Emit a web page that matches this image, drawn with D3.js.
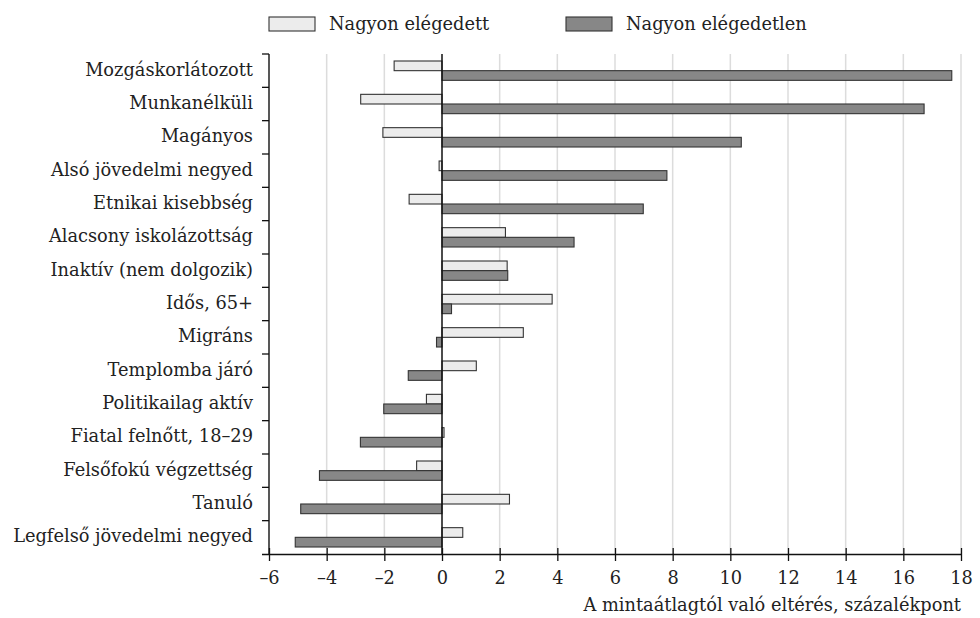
<!DOCTYPE html>
<html>
<head>
<meta charset="utf-8">
<script src="https://cdn.jsdelivr.net/npm/d3@7"></script>
<style>
  body { margin: 0; background: #fff; }
  svg text { font-family: "DejaVu Serif", serif; fill: #222; }
</style>
</head>
<body>
<svg id="chart" width="980" height="618"></svg>
<script>
const categories = [
  "Mozgáskorlátozott", "Munkanélküli", "Magányos", "Alsó jövedelmi negyed",
  "Etnikai kisebbség", "Alacsony iskolázottság", "Inaktív (nem dolgozik)",
  "Idős, 65+", "Migráns", "Templomba járó", "Politikailag aktív",
  "Fiatal felnőtt, 18–29", "Felsőfokú végzettség", "Tanuló",
  "Legfelső jövedelmi negyed"
];
const nagyonElegedett = [-1.66, -2.82, -2.05, -0.1, -1.14, 2.2, 2.26, 3.82, 2.82, 1.19, -0.54, 0.07, -0.88, 2.34, 0.72];
const nagyonElegedetlen = [17.68, 16.72, 10.38, 7.8, 6.98, 4.58, 2.28, 0.33, -0.19, -1.17, -2.02, -2.83, -4.25, -4.9, -5.09];
const xTicks = [-6, -4, -2, 0, 2, 4, 6, 8, 10, 12, 14, 16, 18];
const seriesNames = ["Nagyon elégedett", "Nagyon elégedetlen"];

const svg = d3.select("#chart");
const margin = { top: 54, right: 19, bottom: 64, left: 269 };
const width = 980 - margin.left - margin.right;
const height = 618 - margin.top - margin.bottom;
const fontSize = 17.8;

const x = d3.scaleLinear().domain([-6, 18]).range([0, width]);
const y = d3.scaleBand().domain(categories).range([0, height]).paddingInner(0.42).paddingOuter(0.21);
const sub = d3.scaleBand().domain([0, 1]).range([0, y.bandwidth()]);

const g = svg.append("g").attr("transform", `translate(${margin.left},${margin.top})`);

// gridlines
g.selectAll(".grid").data(xTicks.filter(d => d !== -6 && d !== 0)).enter().append("line")
  .attr("x1", d => x(d)).attr("x2", d => x(d))
  .attr("y1", 0).attr("y2", height)
  .attr("stroke", "#dcdcdc").attr("stroke-width", 1.5);

const fills = ["#ececec", "#878787"];
const series = [nagyonElegedett, nagyonElegedetlen];

series.forEach((vals, s) => {
  g.selectAll(".bar" + s).data(vals).enter().append("rect")
    .attr("x", d => x(Math.min(0, d)))
    .attr("width", d => Math.abs(x(d) - x(0)))
    .attr("y", (d, i) => y(categories[i]) + sub(s))
    .attr("height", sub.bandwidth())
    .attr("fill", fills[s])
    .attr("stroke", "#333").attr("stroke-width", 1.1);
});

// zero line
g.append("line").attr("x1", x(0)).attr("x2", x(0)).attr("y1", 0).attr("y2", height)
  .attr("stroke", "#111").attr("stroke-width", 1.5);

// x axis
const xAxis = g.append("g").attr("transform", `translate(0,${height})`)
  .call(d3.axisBottom(x).tickValues(xTicks).tickSize(7).tickSizeOuter(0)
    .tickFormat(d => d < 0 ? "\u2013" + Math.abs(d) : d));
xAxis.select(".domain").attr("stroke", "#111").attr("stroke-width", 1.4).attr("d", `M-7,0.5H${width}`);
xAxis.selectAll(".tick line").attr("stroke", "#111").attr("stroke-width", 1.3).attr("y1", -6).attr("y2", 7);
xAxis.selectAll(".tick text").attr("font-size", fontSize).attr("dy", "1.1em").attr("fill", "#222")
  .style("font-family", "'DejaVu Serif', serif");

// y axis: ticks at band boundaries
const yAxis = g.append("g");
yAxis.append("line").attr("x1", 0).attr("x2", 0).attr("y1", 0).attr("y2", height)
  .attr("stroke", "#111").attr("stroke-width", 1.4);
const step = y.step();
d3.range(categories.length).forEach(i => {
  yAxis.append("line").attr("x1", -7).attr("x2", 0)
    .attr("y1", i * step).attr("y2", i * step)
    .attr("stroke", "#111").attr("stroke-width", 1.3);
});
yAxis.selectAll(".lbl").data(categories).enter().append("text")
  .attr("x", -16)
  .attr("y", d => y(d) + y.bandwidth() / 2 + 5)
  .attr("text-anchor", "end").attr("font-size", fontSize).text(d => d);

// axis title
svg.append("text").attr("x", margin.left + width).attr("y", 611)
  .attr("text-anchor", "end").attr("font-size", fontSize)
  .text("A mintaátlagtól való eltérés, százalékpont");

// legend
const legendX = [269, 566];
seriesNames.forEach((name, s) => {
  svg.append("rect").attr("x", legendX[s]).attr("y", 17).attr("width", 46).attr("height", 14)
    .attr("fill", fills[s]).attr("stroke", "#333").attr("stroke-width", 1.1);
  svg.append("text").attr("x", legendX[s] + 60).attr("y", 30).attr("font-size", fontSize).text(name);
});
</script>
</body>
</html>
